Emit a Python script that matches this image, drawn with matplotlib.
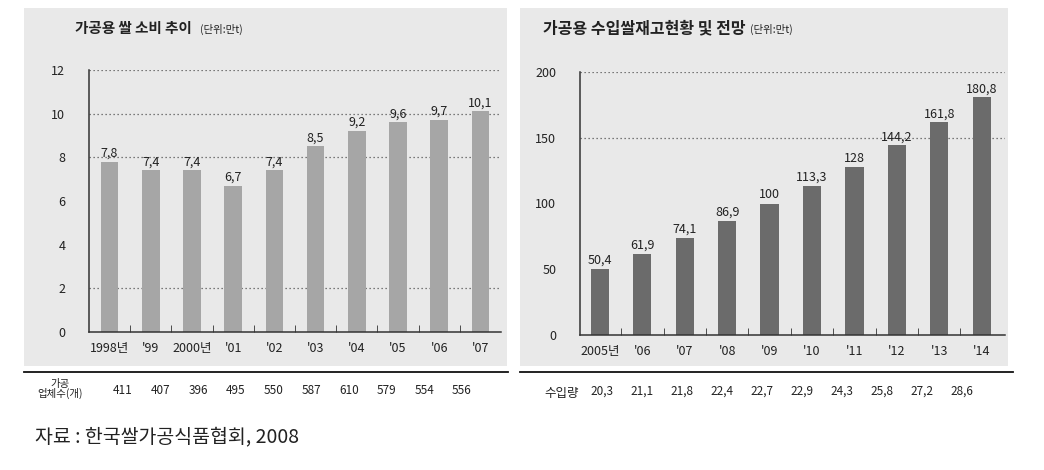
import matplotlib
matplotlib.use("Agg")
import matplotlib.pyplot as plt
from matplotlib.patches import Rectangle
from matplotlib.lines import Line2D
import numpy as np

plt.rcParams['font.family'] = ['Noto Sans CJK KR', 'DejaVu Sans']

# ---- data ----
left_title = "가공용 쌀 소비 추이"
left_unit = "(단위:만t)"
left_years = ["1998년", "'99", "2000년", "'01", "'02", "'03", "'04", "'05", "'06", "'07"]
left_values = [7.8, 7.4, 7.4, 6.7, 7.4, 8.5, 9.2, 9.6, 9.7, 10.1]
left_row_label = "가공\n업체수(개)"
left_row_values = [411, 407, 396, 495, 550, 587, 610, 579, 554, 556]
left_yticks = [0, 2, 4, 6, 8, 10, 12]
left_grid = [2, 8, 10, 12]

right_title = "가공용 수입쌀재고현황 및 전망"
right_unit = "(단위:만t)"
right_years = ["2005년", "'06", "'07", "'08", "'09", "'10", "'11", "'12", "'13", "'14"]
right_values = [50.4, 61.9, 74.1, 86.9, 100, 113.3, 128, 144.2, 161.8, 180.8]
right_row_label = "수입량"
right_row_values = [20.3, 21.1, 21.8, 22.4, 22.7, 22.9, 24.3, 25.8, 27.2, 28.6]
right_yticks = [0, 50, 100, 150, 200]
right_grid = [150, 200]

source_text = "자료 : 한국쌀가공식품협회, 2008"

W, H = 1044, 470
fig = plt.figure(figsize=(W / 100, H / 100), dpi=100)
fig.patch.set_facecolor('white')

def fx(x):
    return x / W

def fy(y):
    return 1 - y / H

def fmt(v):
    s = f"{v:g}"
    return s.replace('.', ',')

BG = '#e9e9e9'
# backgrounds
for (x0, x1) in [(24, 507), (520, 1008)]:
    fig.patches.append(Rectangle((fx(x0), fy(366)), fx(x1) - fx(x0), fy(8) - fy(366),
                                 transform=fig.transFigure, facecolor=BG, edgecolor='none', zorder=-10))
for (x0, x1) in [(24, 508), (520, 1013)]:
    fig.lines.append(Line2D([fx(x0), fx(x1)], [fy(372), fy(372)], transform=fig.transFigure,
                            color='#111111', lw=1.3, zorder=-5))

def make_axes(x0, x1, ytop, ybot, xlim, ylim, values, years, yticks, grid, color):
    ax = fig.add_axes([fx(x0), fy(ybot), fx(x1) - fx(x0), fy(ytop) - fy(ybot)])
    ax.set_zorder(2)
    ax.set_facecolor('none')
    ax.set_xlim(*xlim)
    ax.set_ylim(*ylim)
    x = np.arange(len(values))
    for g in grid:
        ax.axhline(g, color='#555555', lw=0.9, ls=(0, (1, 2.2)), zorder=1)
    ax.bar(x, values, width=0.43, color=color, zorder=2)
    for xi, v in zip(x, values):
        ax.annotate(fmt(v), (xi, v), xytext=(0, 1.5), textcoords='offset points',
                    ha='center', va='bottom', fontsize=9, color='#222222')
    for s in ['top', 'right']:
        ax.spines[s].set_visible(False)
    for s in ['left', 'bottom']:
        ax.spines[s].set_color('#333333')
        ax.spines[s].set_linewidth(1.1)
    ax.set_yticks(yticks)
    ax.set_yticklabels([str(t) for t in yticks])
    ax.tick_params(axis='y', length=0, pad=17, labelsize=9, labelcolor='#222222')
    ax.set_xticks(x)
    ax.set_xticklabels(years)
    ax.tick_params(axis='x', which='major', length=0, pad=7, labelsize=9, labelcolor='#222222')
    ax.set_xticks(x[:-1] + 0.5, minor=True)
    ax.tick_params(axis='x', which='minor', direction='in', length=5, color='#333333')
    return ax

axL = make_axes(89, 501, 70, 332, (-0.5, 9.5), (0, 12), left_values, left_years,
                left_yticks, left_grid, '#a6a6a6')
axR = make_axes(580, 1005, 72, 335, (-0.47, 9.55), (0, 200), right_values, right_years,
                right_yticks, right_grid, '#6b6b6b')

# titles
fig.text(fx(75), fy(28), left_title, fontsize=10.5, fontweight='bold', va='center', ha='left', color='#222222')
fig.text(fx(200), fy(29), left_unit, fontsize=7.5, va='center', ha='left', color='#222222')
fig.text(fx(543), fy(28), right_title, fontsize=11.5, fontweight='bold', va='center', ha='left', color='#222222')
fig.text(fx(750), fy(29), right_unit, fontsize=7.5, va='center', ha='left', color='#222222')

# bottom rows
fig.text(fx(60), fy(389), left_row_label, fontsize=7.5, va='center', ha='center',
         linespacing=0.85, color='#222222')
left_row_x = np.linspace(123, 462, len(left_row_values))
for xp, v in zip(left_row_x, left_row_values):
    fig.text(fx(xp), fy(390), str(v), fontsize=8.5, va='center', ha='center', color='#222222')

fig.text(fx(562), fy(393), right_row_label, fontsize=9, va='center', ha='center', color='#222222')
right_row_x = np.linspace(602, 962, len(right_row_values))
for xp, v in zip(right_row_x, right_row_values):
    fig.text(fx(xp), fy(391), fmt(v), fontsize=8.5, va='center', ha='center', color='#222222')

fig.text(fx(35), fy(437), source_text, fontsize=14, va='center', ha='left', color='#222222')

fig.savefig('out.png', dpi=100)
